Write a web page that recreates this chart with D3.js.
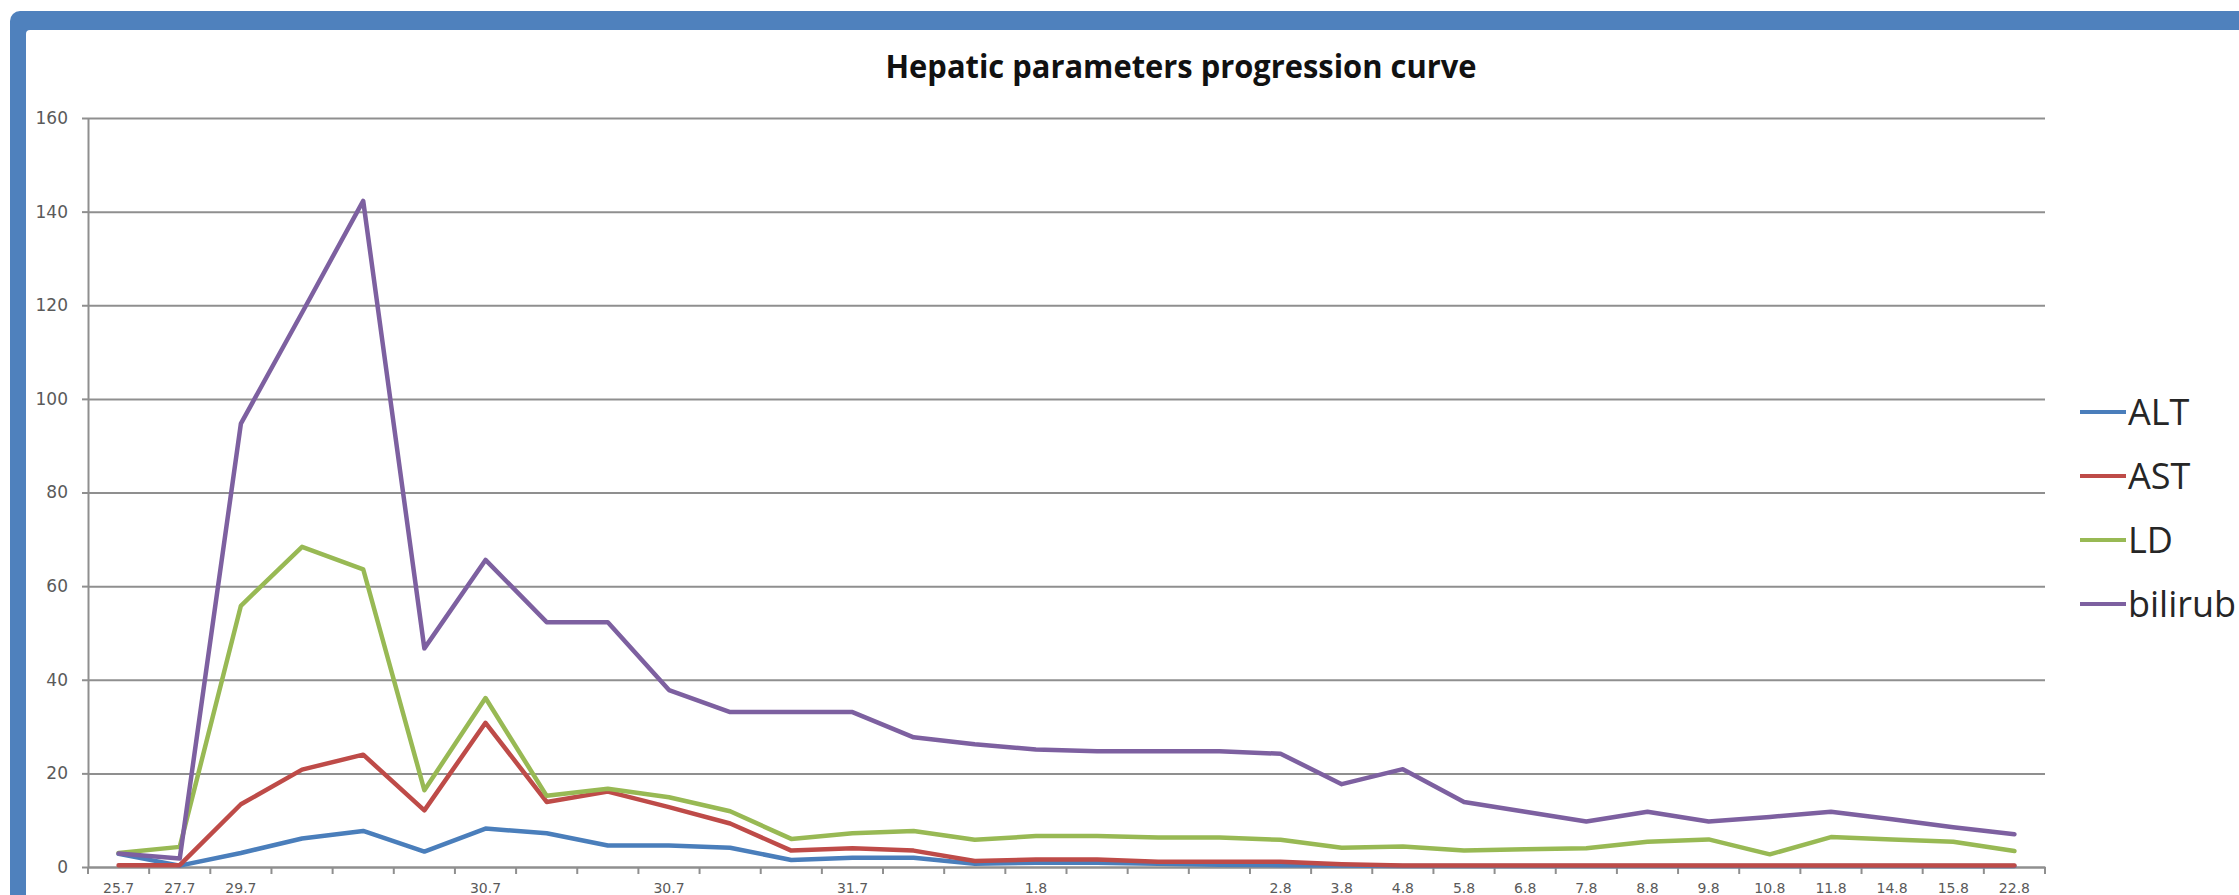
<!DOCTYPE html>
<html>
<head>
<meta charset="utf-8">
<script src="https://cdn.jsdelivr.net/npm/d3@7"></script>
<style>
  html, body { margin: 0; padding: 0; background: #ffffff; overflow: hidden; }
  svg { display: block; }
</style>
</head>
<body>
<svg id="chart" width="2239" height="895"></svg>
<script>
// Sampling dates (blank where several samples share a day)
const categories = ["25.7","27.7","29.7","","","","30.7","","","30.7","","","31.7","","","1.8","","","",
                    "2.8","3.8","4.8","5.8","6.8","7.8","8.8","9.8","10.8","11.8","14.8","15.8","22.8"];

const altValues = [2.8, 0.3, 3.0, 6.1, 7.7, 3.3, 8.2, 7.2, 4.6, 4.6, 4.1, 1.5, 2.0, 2.0, 0.7, 0.9,
                   0.9, 0.7, 0.5, 0.4, 0.3, 0.2, 0.2, 0.2, 0.2, 0.2, 0.2, 0.2, 0.2, 0.2, 0.2, 0.2];
const astValues = [0.4, 0.4, 13.4, 20.8, 24.0, 12.1, 30.8, 13.9, 16.1, 12.8, 9.3, 3.5, 4.0, 3.5, 1.3, 1.6,
                   1.6, 1.1, 1.1, 1.1, 0.6, 0.3, 0.3, 0.3, 0.3, 0.3, 0.3, 0.3, 0.3, 0.3, 0.3, 0.3];
const ldValues = [3.0, 4.3, 55.8, 68.4, 63.6, 16.4, 36.1, 15.2, 16.7, 14.9, 11.9, 6.0, 7.2, 7.7, 5.8, 6.6,
                  6.6, 6.3, 6.3, 5.8, 4.1, 4.4, 3.5, 3.8, 4.0, 5.4, 5.9, 2.7, 6.4, 5.9, 5.4, 3.4];
const bilirubValues = [2.9, 1.8, 94.7, 118.4, 142.3, 46.7, 65.6, 52.3, 52.3, 37.8, 33.1, 33.1, 33.1, 27.7, 26.2, 25.1,
                       24.7, 24.7, 24.7, 24.2, 17.7, 20.9, 13.9, 11.8, 9.7, 11.8, 9.7, 10.7, 11.8, 10.2, 8.5, 7.0];

const seriesNames = ["ALT", "AST", "LD", "bilirub"];
const seriesColors = ["#4A7EBB", "#BE4B48", "#98B954", "#7D60A0"];
const yTicks = [0, 20, 40, 60, 80, 100, 120, 140, 160];

const series = [altValues, astValues, ldValues, bilirubValues].map((vals, k) => ({
  name: seriesNames[k], color: seriesColors[k], values: vals
}));

const svg = d3.select("#chart");

// Frame around the chart
svg.append("rect")
  .attr("x", 10).attr("y", 11).attr("width", 2400).attr("height", 1000)
  .attr("rx", 10).attr("fill", "#4F81BD");
svg.append("rect")
  .attr("x", 26).attr("y", 30).attr("width", 2400).attr("height", 1000)
  .attr("rx", 4).attr("fill", "#ffffff");

// Plot area
const plotLeft = 88, plotRight = 2045, plotTop = 118, plotBottom = 867;

const x = d3.scaleBand().domain(d3.range(categories.length)).range([plotLeft, plotRight]);
const y = d3.scaleLinear().domain([0, 160]).range([plotBottom, plotTop]);
const cx = i => x(i) + x.bandwidth() / 2;

// Horizontal gridlines
const grid = svg.append("g").attr("transform", `translate(${plotLeft},0)`)
  .call(d3.axisLeft(y).tickValues(yTicks).tickSize(-(plotRight - plotLeft)).tickFormat(""));
grid.select(".domain").remove();
grid.selectAll(".tick line").attr("stroke", "#8f8f8f").attr("stroke-width", 2);

// Y axis with labels
const yAxis = svg.append("g").attr("transform", `translate(${plotLeft},0)`)
  .call(d3.axisLeft(y).tickValues(yTicks).tickSize(6).tickSizeOuter(0).tickPadding(14));
yAxis.select(".domain").attr("stroke", "#8f8f8f").attr("stroke-width", 2);
yAxis.selectAll(".tick line").attr("stroke", "#8f8f8f").attr("stroke-width", 2);
yAxis.selectAll(".tick text")
  .attr("font-family", "DejaVu Sans").attr("font-size", 17).attr("fill", "#5a5a5a");

// X axis: labels centred on categories, ticks on category boundaries
const xAxis = svg.append("g").attr("transform", `translate(0,${plotBottom})`)
  .call(d3.axisBottom(x).tickSize(0).tickSizeOuter(0).tickPadding(16).tickFormat(i => categories[i]));
xAxis.select(".domain").attr("stroke", "#8f8f8f").attr("stroke-width", 2);
xAxis.selectAll(".tick text")
  .attr("font-family", "DejaVu Sans").attr("font-size", 14).attr("fill", "#5a5a5a");

const boundaries = d3.range(categories.length + 1).map(i => i < categories.length ? x(i) : x.range()[1]);
xAxis.selectAll(".bound").data(boundaries).join("line")
  .attr("class", "bound")
  .attr("x1", d => d).attr("x2", d => d)
  .attr("y1", 0).attr("y2", 7)
  .attr("stroke", "#8f8f8f").attr("stroke-width", 2);

// Series lines
const line = d3.line().x((d, i) => cx(i)).y(d => y(d));
svg.append("g").selectAll("path").data(series).join("path")
  .attr("d", d => line(d.values))
  .attr("fill", "none")
  .attr("stroke", d => d.color)
  .attr("stroke-width", 4.5)
  .attr("stroke-linejoin", "round")
  .attr("stroke-linecap", "round");

// Title
svg.append("text")
  .attr("x", 1181).attr("y", 78)
  .attr("text-anchor", "middle")
  .attr("font-family", "Open Sans").attr("font-weight", "bold").attr("font-size", 32)
  .attr("textLength", 591).attr("lengthAdjust", "spacingAndGlyphs")
  .attr("fill", "#111111")
  .text("Hepatic parameters progression curve");

// Legend
const legendY = d3.scalePoint().domain(seriesNames).range([412, 604]);
const legend = svg.append("g").selectAll("g").data(series).join("g")
  .attr("transform", d => `translate(2080,${legendY(d.name)})`);
legend.append("line")
  .attr("x1", 0).attr("x2", 46).attr("y1", 0).attr("y2", 0)
  .attr("stroke", d => d.color).attr("stroke-width", 4);
legend.append("text")
  .attr("x", 48).attr("dy", "0.36em")
  .attr("font-family", "Open Sans").attr("font-size", 36).attr("fill", "#262626")
  .text(d => d.name);
</script>
</body>
</html>
